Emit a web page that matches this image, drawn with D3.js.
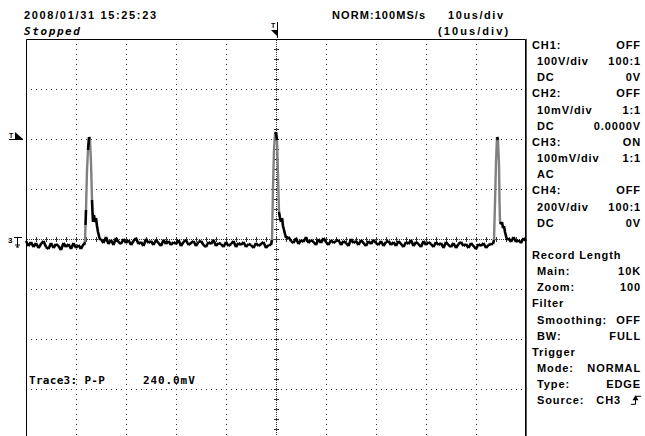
<!DOCTYPE html>
<html>
<head>
<meta charset="utf-8">
<script src="https://cdn.jsdelivr.net/npm/d3@7"></script>
<style>
    body { margin: 0; background: #fff; }
    svg { display: block; font-family: "Liberation Sans", Arial, sans-serif; }
    .lbl { font-size: 11px; font-weight: bold; letter-spacing: 0.9px; fill: #000; }
    .mono { font-family: "DejaVu Sans Mono", monospace; font-weight: bold; font-size: 11px; fill: #000; }
</style>
</head>
<body>
<svg id="scope" width="645" height="436"></svg>
<script>
// Time axis in us (10us/div), CH3 amplitude in mV (100mV/div)
const sampleStep = 0.5;

// Slow parts of the CH3 trace, sampled every 0.5us from the given start time
const segA = { start: -50, values: [-4, -14, -6, -16, -8, -18, -10, -4, -16, -20, -8, -18, -10, -14, -22, -8, -16, -10, -20, -8, -18, -12, -20, -10] };
const segB = { start: -35, values: [
    0, -8, 4, -10, -2, -12, 2, -6, -10, 0,
    -8, -2, -12, -4, 2, -10, -6, -14, 0, -8,
    -4, -12, -2, -8, -14, -2, -10, -4, -12, -6,
    -10, -2, -14, -6, -2, -12, -8, -4, -14, -6,
    -4, -12, -16, -6, -10, -2, -14, -8, -10, -16,
    -6, -14, -10, -4, -16, -8, -12, -6, -16, -10,
    -12, -18, -8, -14, -10, -6, -18, -12] };
const segC = { start: 2.5, values: [
    4, -4, -8, 2, -10, -2, -6, 4, -8, -2,
    -6, -12, 0, -8, 2, -6, -12, -2, -8, -4,
    -2, -12, -4, -8, -14, 0, -8, -4, -12, -2,
    -8, -14, -4, -10, -2, -8, -12, -4, -14, -6,
    -4, -12, -6, -14, -4, -10, -16, -6, -10, -2,
    -14, -6, -10, -16, -4, -12, -6, -10, -16, -6,
    -12, -8, -18, -6, -12, -16, -8, -18, -10, -6,
    -14, -10, -18, -8, -14, -20, -10, -14, -8, -18, -12, -10] };
const segD = { start: 46.5, values: [2, -6, 4, -6, -2, -8, 2, -4] };

// Pulses as [time us, mV]
const pulse1 = [[-38.4, -12], [-38.2, -6], [-38.1, 28], [-38.0, 58], [-37.8, 138], [-37.6, 178], [-37.4, 204], [-37.2, 200],
    [-37.0, 152], [-36.8, 78], [-36.7, 54], [-36.6, 34], [-36.4, 48], [-36.2, 34], [-36.0, 42], [-35.8, 26], [-35.6, 14], [-35.4, 6], [-35.2, -2]];
const pulse2 = [[-1.0, -12], [-0.8, -2], [-0.7, 48], [-0.6, 102], [-0.4, 178], [-0.2, 210], [0, 214], [0.2, 198],
    [0.4, 128], [0.6, 54], [0.8, 42], [1.0, 34], [1.2, 42], [1.4, 26], [1.6, 18], [1.8, 10], [2.0, 2]];
const pulse3 = [[43.4, -10], [43.6, -2], [43.8, 72], [44.0, 154], [44.2, 204], [44.4, 198], [44.6, 148], [44.7, 78],
    [44.8, 34], [45.0, 30], [45.2, 34], [45.4, 22], [45.6, 26], [45.8, 14], [46.0, 6], [46.2, -2]];

const triggerLevel = 200; // mV
const groundLevel = 0;

const headerLeft = ['2008/01/31  15:25:23', 'Stopped'];
const headerRight = ['NORM:100MS/s', '10us/div', '(10us/div)'];
const measureText = ['Trace3: P-P', '240.0mV'];

// side panel: [row, label, value, heading?]
const panelRows = [
    [0, 'CH1:', 'OFF', true], [1, '100V/div', '100:1'], [2, 'DC', '0V'],
    [3, 'CH2:', 'OFF', true], [4, '10mV/div', '1:1'], [5, 'DC', '0.0000V'],
    [6, 'CH3:', 'ON', true], [7, '100mV/div', '1:1'], [8, 'AC', ''],
    [9, 'CH4:', 'OFF', true], [10, '200V/div', '100:1'], [11, 'DC', '0V'],
    [13, 'Record  Length', '', true], [14, 'Main:', '10K'], [15, 'Zoom:', '100'],
    [16, 'Filter', '', true], [17, 'Smoothing:', 'OFF'], [18, 'BW:', 'FULL'],
    [19, 'Trigger', '', true], [20, 'Mode:', 'NORMAL'], [21, 'Type:', 'EDGE'], [22, 'Source:', 'CH3']
];

const svg = d3.select('#scope');
const x = d3.scaleLinear().domain([-50, 50]).range([26, 526]);
const y = d3.scaleLinear().domain([-400, 400]).range([439, 39]);

const gridX = d3.range(-40, 50, 10).filter(d => d !== 0);
const gridY = d3.range(-300, 400, 100).filter(d => d !== 0);

const grid = svg.append('g').attr('stroke', '#333').attr('stroke-width', 1);
grid.selectAll('.vgrid').data(gridX).enter().append('line')
    .attr('x1', d => x(d) + 0.5).attr('x2', d => x(d) + 0.5)
    .attr('y1', 44).attr('y2', 436)
    .attr('stroke-dasharray', '1,4');
grid.selectAll('.hgrid').data(gridY).enter().append('line')
    .attr('y1', d => y(d) + 0.5).attr('y2', d => y(d) + 0.5)
    .attr('x1', 31).attr('x2', 525)
    .attr('stroke-dasharray', '1,4');

// center axes with minor ticks
grid.append('line').attr('x1', x(0) + 0.5).attr('x2', x(0) + 0.5).attr('y1', 40).attr('y2', 436).attr('stroke-dasharray', '1,1');
grid.append('line').attr('y1', y(0) + 0.5).attr('y2', y(0) + 0.5).attr('x1', 27).attr('x2', 525).attr('stroke-dasharray', '1,1');
const minorY = d3.range(-380, 400, 20);
grid.selectAll('.ty').data(minorY).enter().append('line')
    .attr('x1', x(0) - 2).attr('x2', x(0) + 3)
    .attr('y1', d => y(d) + 0.5).attr('y2', d => y(d) + 0.5);
const minorX = d3.range(-48, 50, 2);
grid.selectAll('.tx').data(minorX).enter().append('line')
    .attr('y1', y(0) - 2).attr('y2', y(0) + 3)
    .attr('x1', d => x(d) + 0.5).attr('x2', d => x(d) + 0.5);

// frame
svg.append('path')
    .attr('d', 'M26.5,436V39.5H525.5V436')
    .attr('fill', 'none').attr('stroke', '#000').attr('stroke-width', 1);
svg.append('line').attr('x1', 526.5).attr('x2', 526.5).attr('y1', 39).attr('y2', 436)
    .attr('stroke', '#555').attr('stroke-width', 1);

// trace: fast transitions are drawn dim, like on the scope screen
const expand = seg => seg.values.map((v, i) => [seg.start + i * sampleStep, v]);
const trace = [].concat(expand(segA), pulse1, expand(segB), pulse2, expand(segC), pulse3, expand(segD));
const slow = [];
const fast = [];
for (let i = 1; i < trace.length; i++) {
    const a = trace[i - 1];
    const b = trace[i];
    (Math.abs(b[1] - a[1]) > 30 ? fast : slow).push([a, b]);
}
const line = d3.line().x(d => x(d[0])).y(d => y(d[1]));
svg.append('path')
    .attr('d', fast.map(line).join(''))
    .attr('fill', 'none').attr('stroke', '#808080').attr('stroke-width', 2.4);
svg.append('path')
    .attr('d', slow.map(line).join(''))
    .attr('fill', 'none').attr('stroke', '#000').attr('stroke-width', 2.6)
    .attr('stroke-linejoin', 'miter');

// left markers
const ty = y(triggerLevel);
svg.append('text').attr('x', 9).attr('y', ty - 1).attr('font-size', 7).attr('font-weight', 'bold').text('T');
svg.append('path').attr('d', `M9,${ty + 0.5}H23`).attr('stroke', '#000');
svg.append('path').attr('d', `M15,${ty - 7}L23,${ty}H15Z`).attr('fill', '#000');
const gy = y(groundLevel);
svg.append('text').attr('x', 8).attr('y', gy + 4).attr('font-size', 8).attr('font-weight', 'bold').text('3');
svg.append('path')
    .attr('d', `M14,${gy - 1.5}H22M17.5,${gy - 1.5}V${gy + 8}M15,${gy + 6}H20M16,${gy + 8}H19`)
    .attr('stroke', '#000').attr('fill', 'none');

// trigger position marker
svg.append('text').attr('x', 271).attr('y', 28).attr('font-size', 7).attr('font-weight', 'bold').text('T');
svg.append('path').attr('d', 'M277.5,22V38').attr('stroke', '#000');
svg.append('path').attr('d', 'M271,30H278V37Z').attr('fill', '#000');

// header text
svg.append('text').attr('class', 'lbl').attr('x', 24).attr('y', 19).attr('textLength', 133).text(headerLeft[0]);
svg.append('text').attr('class', 'mono').attr('x', 24).attr('y', 35)
    .attr('font-style', 'italic').attr('letter-spacing', '1.6px').text(headerLeft[1]);
svg.append('text').attr('class', 'lbl').attr('x', 332).attr('y', 19).attr('textLength', 94).text(headerRight[0]);
svg.append('text').attr('class', 'lbl').attr('x', 448).attr('y', 19).attr('textLength', 56).text(headerRight[1]);
svg.append('text').attr('class', 'lbl').attr('x', 438).attr('y', 35).attr('textLength', 71).text(headerRight[2]);

// measurement
svg.append('text').attr('class', 'mono').attr('x', 29).attr('y', 384).attr('letter-spacing', '0.3px').text(measureText[0]);
svg.append('text').attr('class', 'mono').attr('x', 143).attr('y', 384).attr('letter-spacing', '0.9px').text(measureText[1]);

// side panel
const rowY = r => 49 + r * 16.15;
const panel = svg.append('g');
panel.selectAll('.pl').data(panelRows).enter().append('text')
    .attr('class', 'lbl')
    .attr('x', d => (d[3] ? 532 : 537))
    .attr('y', d => rowY(d[0]))
    .text(d => d[1]);
panel.selectAll('.pv').data(panelRows.filter(d => d[2] && d[1] !== 'Source:')).enter().append('text')
    .attr('class', 'lbl')
    .attr('text-anchor', 'end')
    .attr('x', 641)
    .attr('y', d => rowY(d[0]))
    .text(d => d[2]);
const srcY = rowY(22);
panel.append('text').attr('class', 'lbl').attr('text-anchor', 'end').attr('x', 621).attr('y', srcY).text('CH3');
panel.append('path').attr('d', `M631,${srcY}H635.5V${srcY - 8}H641`).attr('stroke', '#000').attr('fill', 'none');
panel.append('path').attr('d', `M632.5,${srcY - 4}L635.5,${srcY - 9}L638.5,${srcY - 4}Z`).attr('fill', '#000');
</script>
</body>
</html>
